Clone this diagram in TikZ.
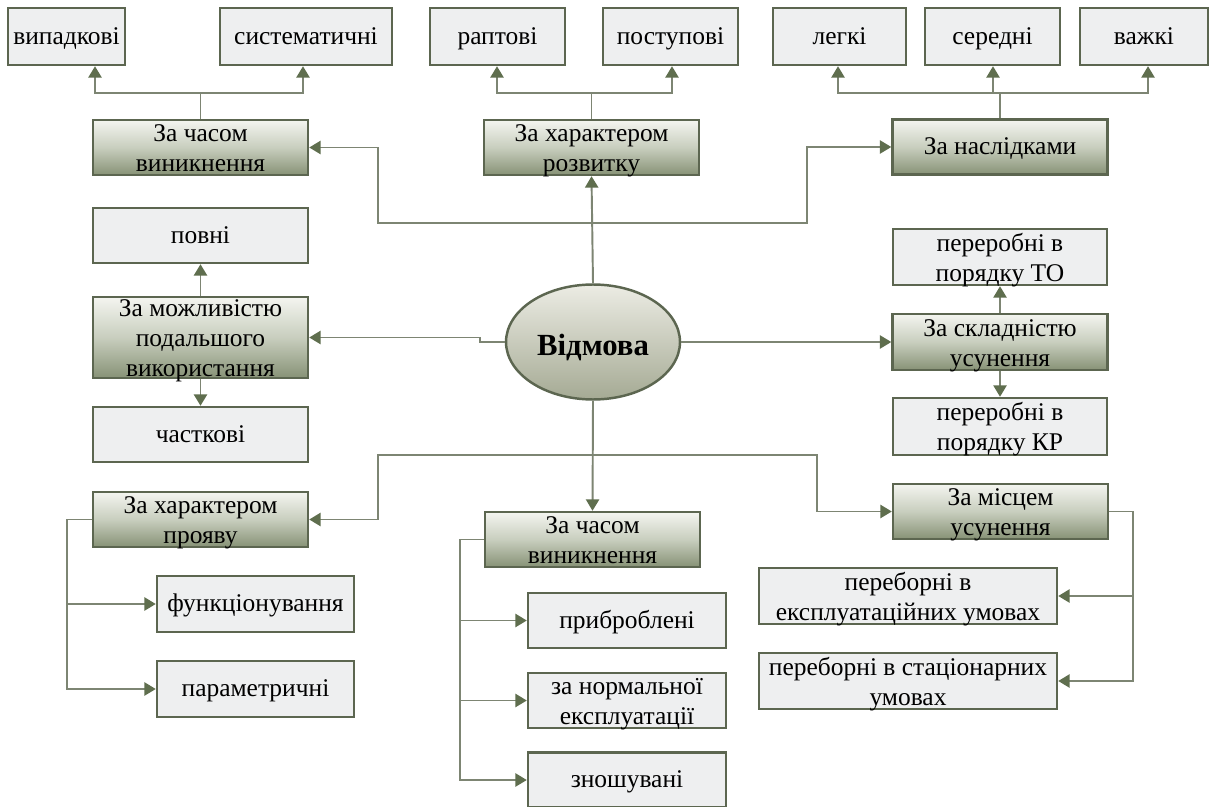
\documentclass[tikz,border=0pt]{standalone}
\usepackage{fontspec}
\setmainfont{Liberation Serif}
\newfontfamily\tnr{Liberation Serif}
\usetikzlibrary{arrows.meta,shapes.geometric}
\newcommand\zzTop{\rule{0pt}{14.6pt}}
\newcommand\zzBot{\rule[-4pt]{0pt}{4pt}}
\definecolor{bord}{RGB}{92,102,80}
\definecolor{leaffill}{RGB}{238,239,240}
\definecolor{catTop}{RGB}{244,245,240}
\definecolor{catMid}{RGB}{200,206,190}
\definecolor{catBot}{RGB}{135,146,118}
\definecolor{linec}{RGB}{125,133,115}
\definecolor{tipc}{RGB}{95,110,78}
\definecolor{ellTop}{RGB}{236,236,228}
\definecolor{ellBot}{RGB}{165,170,148}
\begin{document}
\begin{tikzpicture}[x=0.02cm,y=-0.02cm,
  box/.style={draw=bord, line width=1.4pt, rectangle, align=center, inner sep=0pt, inner ysep=-4pt,
              font=\tnr\fontsize{14.5}{17}\selectfont, minimum height=1.1cm},
  leaf/.style={box, fill=leaffill},
  one/.style={text height=12pt, text depth=3pt},
  cat/.style={box, top color=catTop, bottom color=catBot, middle color=catMid, minimum width=4.3cm},
  conn/.style={draw=linec, line width=1.1pt},
  arr/.style={conn, -{Triangle[length=6.5pt,width=7.5pt,fill=tipc,color=tipc]}},
]
\useasboundingbox (0,0) rectangle (1213,807);
\fill[white] (0,0) rectangle (1213,807);

% top row leaves
\node[leaf, one, minimum width=2.34cm, minimum height=1.14cm] (vyp)  at (66.5,36.5) {випадкові};
\node[leaf, one, minimum width=3.44cm, minimum height=1.14cm] (syst) at (306,36.5) {систематичні};
\node[leaf, one, minimum width=2.7cm,  minimum height=1.14cm] (rapt) at (497.5,36.5) {раптові};
\node[leaf, one, minimum width=2.7cm,  minimum height=1.14cm] (post) at (670.5,36.5) {поступові};
\node[leaf, one, minimum width=2.66cm, minimum height=1.14cm] (legk) at (839.5,36.5) {легкі};
\node[leaf, one, minimum width=2.7cm,  minimum height=1.14cm] (sere) at (992.5,36.5) {середні};
\node[leaf, one, minimum width=2.56cm, minimum height=1.14cm] (vazh) at (1144,36.5) {важкі};

% category boxes
\node[cat] (A) at (200.5,147.5) {\zzTop За часом\\виникнення\zzBot};
\node[cat] (B) at (591.5,147.5) {\zzTop За характером\\розвитку\zzBot};
\node[cat, one] (C) at (1000,147) {За наслідками};
\node[cat, minimum height=1.62cm] (D) at (200.5,337.5) {\zzTop За можливістю\\подальшого\\використання\zzBot};
\node[cat, minimum height=1.12cm] (Es) at (1000,342) {\zzTop За складністю\\усунення\zzBot};
\node[cat] (F) at (200.5,519.5) {\zzTop За характером\\прояву\zzBot};
\node[cat] (G) at (592.5,539.5) {\zzTop За часом\\виникнення\zzBot};
\node[cat] (H) at (1000.5,511.5) {\zzTop За місцем\\усунення\zzBot};

% middle leaves
\node[leaf, one, minimum width=4.3cm] (povni) at (200.5,235.5) {повні};
\node[leaf, one, minimum width=4.3cm] (chast) at (200.5,434.5) {часткові};
\node[leaf, minimum width=4.28cm, minimum height=1.12cm] (TO) at (1000,257) {\zzTop переробні в\\порядку ТО\zzBot};
\node[leaf, minimum width=4.28cm, minimum height=1.14cm] (KR) at (1000,426.5) {\zzTop переробні в\\порядку КР\zzBot};

% bottom leaves
\node[leaf, one, minimum width=3.94cm, minimum height=1.12cm] (funk) at (255.5,604) {функціонування};
\node[leaf, one, minimum width=3.94cm, minimum height=1.12cm] (param) at (255.5,689) {параметричні};
\node[leaf, one, minimum width=3.96cm] (pryb) at (627,620.5) {приброблені};
\node[leaf, minimum width=3.96cm] (norm) at (627,700.5) {\zzTop за нормальної\\експлуатації\zzBot};
\node[leaf, one, minimum width=3.96cm] (znosh) at (627,780) {зношувані};
\node[leaf, minimum width=5.96cm, minimum height=1.12cm] (eksp) at (908,596) {\zzTop переборні в\\експлуатаційних умовах\zzBot};
\node[leaf, minimum width=5.96cm, minimum height=1.12cm] (stac) at (908,681) {\zzTop переборні в стаціонарних\\умовах\zzBot};

% central ellipse
\node[ellipse, draw=bord, line width=1.4pt, top color=ellTop, bottom color=ellBot,
      minimum width=3.48cm, minimum height=2.3cm, inner sep=0pt,
      text height=15pt, text depth=0pt,
      font=\tnr\fontsize{17.5}{20}\selectfont\bfseries] (V) at (593,342) {Відмова};

% helper coordinates
\coordinate (ta) at (95,93);
\coordinate (tb) at (303,93);
\coordinate (tc) at (497,93);
\coordinate (td) at (672,93);
\coordinate (te) at (838,93);
\coordinate (tf) at (993,93);
\coordinate (tg) at (1148,93);
\coordinate (jt) at (593,223);
\coordinate (xl) at (378,0);
\coordinate (xr) at (807,0);
\coordinate (jw) at (480,0);
\coordinate (jb) at (593,455);
\coordinate (xbr) at (817,0);
\coordinate (xf) at (67,0);
\coordinate (xg) at (460,0);
\coordinate (xh) at (1133,0);

% top brackets
\draw[arr] (A.north) -- (A.north |- ta) -- (ta) -- (ta |- vyp.south);
\draw[arr] (A.north |- ta) -- (tb) -- (tb |- syst.south);
\draw[arr] (B.north) -- (B.north |- tc) -- (tc) -- (tc |- rapt.south);
\draw[arr] (B.north |- tc) -- (td) -- (td |- post.south);
\draw[arr] (C.north) -- (C.north |- te) -- (te) -- (te |- legk.south);
\draw[arr] (te) -- (tf) -- (tf |- sere.south);
\draw[arr] (tf) -- (tg) -- (tg |- vazh.south);

% centre upward
\draw[arr] (V.north) -- (B.south);
\draw[arr] (jt) -- (jt -| xl) -- (xl |- A.east) -- (A.east);
\draw[arr] (jt) -- (jt -| xr) -- (xr |- C.west) -- (C.west);

% left / right of ellipse
\draw[arr] (V.west) -- (V.west -| jw) -- (jw |- D.east) -- (D.east);
\draw[arr] (V.east) -- (Es.west);
\draw[arr] (D.north) -- (povni.south);
\draw[arr] (D.south) -- (chast.north);
\draw[arr] (Es.north) -- (TO.south);
\draw[arr] (Es.south) -- (KR.north);

% centre downward
\draw[arr] (V.south) -- (G.north);
\draw[arr] (jb) -- (jb -| xl) -- (xl |- F.east) -- (F.east);
\draw[arr] (jb) -- (jb -| xbr) -- (xbr |- H.west) -- (H.west);

% bottom branches
\draw[arr] (F.west) -- (F.west -| xf) |- (funk.west);
\draw[arr] (F.west -| xf) |- (param.west);
\draw[arr] (G.west) -- (G.west -| xg) |- (pryb.west);
\draw[arr] (G.west -| xg) |- (norm.west);
\draw[arr] (G.west -| xg) |- (znosh.west);
\draw[arr] (H.east) -- (H.east -| xh) |- (eksp.east);
\draw[arr] (H.east -| xh) |- (stac.east);
\end{tikzpicture}
\end{document}
